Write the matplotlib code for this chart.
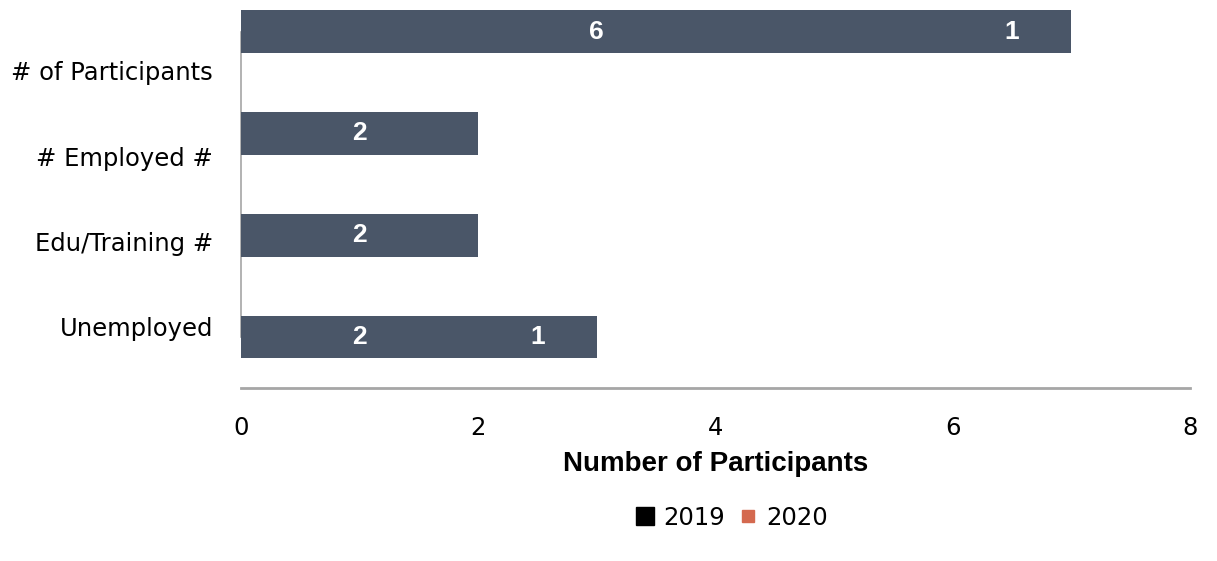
import matplotlib
matplotlib.use("Agg")
import matplotlib.pyplot as plt
from matplotlib.lines import Line2D

categories = ["# of Participants", "# Employed #", "Edu/Training #", "Unemployed"]
values_2019 = [6, 2, 2, 2]
values_2020 = [1, 0, 0, 1]
series_names = ["2019", "2020"]
x_ticks = [0, 2, 4, 6, 8]

bar_color = "#4a5668"
legend_colors = ["#000000", "#d4694f"]
axis_gray = "#a6a6a6"

fig = plt.figure(figsize=(12.17, 5.61), dpi=100)
ax = fig.add_axes([241 / 1217, (561 - 388) / 561, (1190 - 241) / 1217, 388 / 561])

y = list(range(len(categories)))
h = 0.42
ax.barh(y, values_2019, height=h, color=bar_color, zorder=3)
ax.barh(y, values_2020, left=values_2019, height=h, color=bar_color, zorder=3)

for i in y:
    v1, v2 = values_2019[i], values_2020[i]
    if v1:
        ax.text(v1 / 2, i, str(v1), ha="center", va="center", color="white",
                fontsize=19, fontweight="bold", family="Liberation Sans", zorder=4)
    if v2:
        ax.text(v1 + v2 / 2, i, str(v2), ha="center", va="center", color="white",
                fontsize=19, fontweight="bold", family="Liberation Sans", zorder=4)

ax.set_xlim(0, 8)
ax.set_ylim(3.5, -0.31)
ax.set_xticks(x_ticks)
ax.set_xticklabels([str(t) for t in x_ticks], fontsize=17.5, family="DejaVu Sans")
ax.tick_params(axis="x", length=0, pad=20)

# category labels sit slightly below each bar
label_pos = [0.38, 1.23, 2.06, 2.90]
ax.set_yticks(label_pos)
ax.set_yticklabels(categories, fontsize=17.5, family="DejaVu Sans")
ax.tick_params(axis="y", length=0, pad=20)

for s in ["top", "right"]:
    ax.spines[s].set_visible(False)
ax.spines["bottom"].set_color(axis_gray)
ax.spines["bottom"].set_linewidth(2)
ax.spines["left"].set_color(axis_gray)
ax.spines["left"].set_linewidth(1.2)
ax.spines["left"].set_bounds(0, 3)
ax.spines["left"].set_zorder(1)

ax.set_xlabel("Number of Participants", fontsize=20, fontweight="bold",
              family="Liberation Sans", labelpad=8)

handles = [
    Line2D([], [], marker="s", linestyle="none", markersize=13,
           markerfacecolor=legend_colors[0], markeredgecolor=legend_colors[0]),
    Line2D([], [], marker="s", linestyle="none", markersize=9,
           markerfacecolor=legend_colors[1], markeredgecolor=legend_colors[1]),
]
fig.legend(handles, series_names, loc="center", bbox_to_anchor=(731 / 1217, 1 - 518 / 561),
           ncol=2, frameon=False, prop={"family": "DejaVu Sans", "size": 17.5},
           handletextpad=0.3, columnspacing=0.5, handlelength=0.9)

fig.savefig("out.png", dpi=100)
